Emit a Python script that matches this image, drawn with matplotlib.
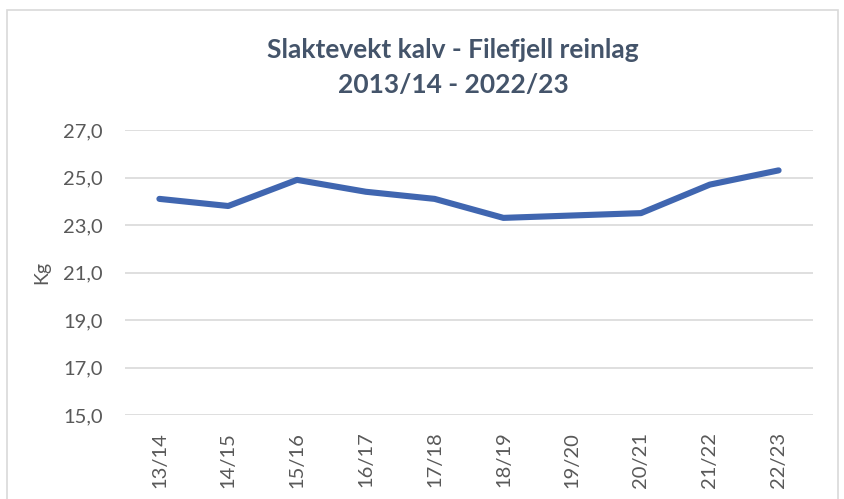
import matplotlib.pyplot as plt
from matplotlib.patches import Rectangle
from matplotlib.ticker import FuncFormatter

# seasons and average carcass weight per calf (kg)
seasons = ["13/14", "14/15", "15/16", "16/17", "17/18",
           "18/19", "19/20", "20/21", "21/22", "22/23"]
weights = [24.1, 23.8, 24.9, 24.4, 24.1, 23.3, 23.4, 23.5, 24.7, 25.3]
y_ticks = [15, 17, 19, 21, 23, 25, 27]

plt.rcParams["font.family"] = ["Lato", "DejaVu Sans"]

fig = plt.figure(figsize=(8.45, 4.99), dpi=100)
fig.patch.set_facecolor("white")

# outer chart border like the Excel chart area
fig.patches.append(Rectangle((7 / 845, -0.05), 831 / 845, 1 - 10 / 499 + 0.05,
                             transform=fig.transFigure, fill=False,
                             edgecolor="#D9D9D9", linewidth=1.2))

ax = fig.add_axes([125 / 845, 1 - 415 / 499, 688 / 845, 285 / 499])
x = list(range(len(seasons)))
ax.plot(x, weights, color="#4066B0", linewidth=4.4, solid_capstyle="round",
        solid_joinstyle="round", zorder=3)

ax.set_xlim(-0.5, len(seasons) - 0.5)
ax.set_ylim(15, 27)
ax.set_yticks(y_ticks)
ax.yaxis.set_major_formatter(FuncFormatter(lambda v, p: f"{v:.1f}".replace(".", ",")))
ax.set_xticks(x)
ax.set_xticklabels(seasons, rotation=90)

ax.grid(axis="y", color="#D9D9D9", linewidth=1.2)
ax.set_axisbelow(True)
for s in ax.spines.values():
    s.set_visible(False)
ax.tick_params(axis="both", length=0, colors="#595959", labelsize=14.5)
ax.tick_params(axis="y", pad=16)
ax.tick_params(axis="x", pad=12)

ax.set_ylabel("Kg", color="#595959", fontsize=14)
ax.yaxis.set_label_coords(-75 / 688, 0.5)

fig.text(0.536, 1 - 50 / 499, "Slaktevekt kalv - Filefjell reinlag",
         ha="center", va="center", fontsize=19, fontweight="bold", color="#44546A")
fig.text(0.536, 1 - 85 / 499, "2013/14 - 2022/23",
         ha="center", va="center", fontsize=19, fontweight="bold", color="#44546A")

fig.savefig("out.png", dpi=100)
